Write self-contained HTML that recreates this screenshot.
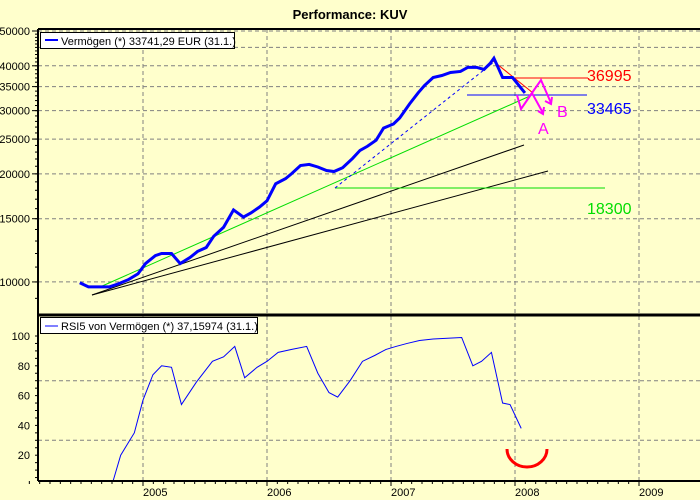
<!DOCTYPE html>
<html><head><meta charset="utf-8"><style>
body{margin:0;background:#ffffcc;}
svg{display:block;font-family:"Liberation Sans",sans-serif;}
</style></head><body>
<svg id="c" width="700" height="500">
<rect width="700" height="500" fill="#ffffcc"/>
<text x="350" y="19" text-anchor="middle" font-size="13" font-weight="bold">Performance: KUV</text>
<g id="g"></g>
</svg>
<script>
const vYears=[2004.49,2004.56,2004.64,2004.73,2004.80,2004.88,2004.96,2005.02,2005.10,2005.15,2005.23,2005.30,2005.38,2005.44,2005.51,2005.57,2005.65,2005.73,2005.81,2005.87,2005.94,2006.0,2006.07,2006.15,2006.20,2006.27,2006.34,2006.41,2006.48,2006.54,2006.61,2006.69,2006.75,2006.81,2006.88,2006.94,2007.02,2007.07,2007.15,2007.22,2007.27,2007.34,2007.41,2007.48,2007.56,2007.62,2007.69,2007.75,2007.80,2007.83,2007.90,2007.98,2008.08];
const vValues=[9945,9690,9690,9690,9875,10140,10540,11250,11840,12000,12000,11250,11700,12160,12470,13400,14200,15870,15160,15560,16170,16830,18770,19400,20050,21100,21250,20900,20430,20300,20800,22080,23250,23870,24820,26830,27540,28620,31340,33670,35240,37100,37580,38320,38570,39600,39600,39080,40630,42000,37100,37100,33600];
const rYears=[2004.76,2004.82,2004.93,2005.0,2005.08,2005.15,2005.23,2005.31,2005.43,2005.56,2005.65,2005.74,2005.82,2005.92,2006.0,2006.09,2006.2,2006.32,2006.41,2006.5,2006.57,2006.67,2006.77,2006.87,2006.96,2007.04,2007.13,2007.23,2007.34,2007.57,2007.66,2007.73,2007.81,2007.9,2007.96,2008.05];
const rValues=[3,20,35,57,74,80,79,54,69,83,86,93,72,79,83,89,91,93,75,62,59,70,83,87,91,93,95,97,98,99,80,83,89,55,54,38];
const topTicks=[50000,40000,35000,30000,25000,20000,15000,10000];
const topGrid=[50000,45000,40000,35000,30000,25000,20000,15000,10000];
const rsiTicks=[20,40,60,80,100];
const rsiGrid=[30,70];
const yearTicks=[2005,2006,2007,2008,2009];

const NS="http://www.w3.org/2000/svg";
const g=document.getElementById('g');
const X=t=>143+(t-2005)*124;
const Yt=v=>31+359*Math.log10(50000/v);
const Yr=v=>485-v*1.49;
function el(tag,a,p){const e=document.createElementNS(NS,tag);for(const k in a)e.setAttribute(k,a[k]);(p||g).appendChild(e);return e;}
const L=38,R=700,B=481;
topGrid.forEach(v=>{const e=el('line',{x1:L,x2:R,y1:Yt(v),y2:Yt(v),stroke:'#808080','stroke-dasharray':'4,3'});

});
rsiGrid.forEach(v=>{const e=el('line',{x1:L,x2:R,y1:Yr(v),y2:Yr(v),stroke:'#808080','stroke-dasharray':'4,3'});

});
yearTicks.forEach(y=>{const x=X(y);
const e=el('line',{x1:x,x2:x,y1:29,y2:B,stroke:'#808080','stroke-dasharray':'4,3'});


const t=el('text',{x:x,y:496,'text-anchor':'start','font-size':11});t.textContent=y;


for(let m=1;m<12;m++){const mx=X(y-1+m/12);el('line',{x1:mx,x2:mx,y1:B,y2:B+3,stroke:'#000'});}
el('line',{x1:x,x2:x,y1:B,y2:B+5,stroke:'#000'});
});
for(let v=9000;v<=50000;v+=1000){el('line',{x1:L-3,x2:L,y1:Yt(v),y2:Yt(v),stroke:'#000'});}
topTicks.forEach(v=>{el('line',{x1:L-6,x2:L,y1:Yt(v),y2:Yt(v),stroke:'#000'});
const t=el('text',{x:L-8,y:Yt(v)+4,'text-anchor':'end','font-size':11});t.textContent=v;

});
for(let v=5;v<=100;v+=5){el('line',{x1:L-3,x2:L,y1:Yr(v),y2:Yr(v),stroke:'#000'});}
rsiTicks.forEach(v=>{const t=el('text',{x:L-8,y:Yr(v)+4,'text-anchor':'end','font-size':11});t.textContent=v;

});
const ann=[[92,295,524,145,'#000'],[92,295,548,171,'#000'],[100,287,530,96,'#00dd00'],[335,188,605,188,'#00dd00'],[492,60,533,93,'#ff0000'],[513,78,588,78,'#ff0000'],[467,95,587,95,'#0000ff']];
ann.forEach(a=>{const e=el('line',{x1:a[0],y1:a[1],x2:a[2],y2:a[3],stroke:a[4]});

});
const dl=el('line',{x1:335,y1:188,x2:494,y2:62,stroke:'#0000ff','stroke-dasharray':'3,3'});


const vp=el('polyline',{points:vYears.map((t,i)=>X(t)+','+Yt(vValues[i])).join(' '),fill:'none',stroke:'#0000ff','stroke-width':3});


const rp=el('polyline',{points:rYears.map((t,i)=>X(t)+','+Math.min(Yr(rValues[i]),B)).join(' '),fill:'none',stroke:'#0000ff','stroke-width':1});


const mg=el('polyline',{points:'517,95 521,109 532,93 543,113',fill:'none',stroke:'#ff00ff','stroke-width':2});


const mg2=el('polyline',{points:'527,100 541,80 551,103',fill:'none',stroke:'#ff00ff','stroke-width':2});


el('polyline',{points:'538,111 543,114 544,107',fill:'none',stroke:'#ff00ff','stroke-width':2});
el('polyline',{points:'545,101 551,104 552,97',fill:'none',stroke:'#ff00ff','stroke-width':2});
const lbl=[[538,134,'A','#ff00ff','label-a'],[557,117,'B','#ff00ff','label-b'],[587,81,'36995','#ff0000','label-36995'],[587,114,'33465','#0000ff','label-33465'],[587,214,'18300','#00dd00','label-18300']];
lbl.forEach(a=>{const t=el('text',{x:a[0],y:a[1],fill:a[3],'font-size':16});t.textContent=a[2];

});
const arc=el('path',{d:'M507,449 A20,18 0 0 0 547,449',fill:'none',stroke:'#ff0000','stroke-width':3});


el('line',{x1:L,x2:L,y1:29,y2:B,stroke:'#000','stroke-width':2});
el('line',{x1:L,x2:R,y1:29,y2:29,stroke:'#000','stroke-width':2});
el('line',{x1:L,x2:R,y1:315,y2:315,stroke:'#000','stroke-width':3});
el('line',{x1:L,x2:R,y1:B,y2:B,stroke:'#000','stroke-width':2});
const lg1=el('g',{});


el('rect',{x:40.5,y:32.5,width:194,height:16,fill:'#fff',stroke:'#000'},lg1);
el('line',{x1:45,x2:58,y1:40,y2:40,stroke:'#0000ff','stroke-width':2},lg1);
el('text',{x:61,y:45,'font-size':11},lg1).textContent='Vermögen (*) 33741,29 EUR (31.1.)';
const lg2=el('g',{});


el('rect',{x:40.5,y:317.5,width:217,height:16,fill:'#fff',stroke:'#000'},lg2);
el('line',{x1:45,x2:58,y1:326,y2:326,stroke:'#0000ff','stroke-width':1},lg2);
el('text',{x:61,y:330,'font-size':11},lg2).textContent='RSI5 von Vermögen (*) 37,15974 (31.1.)';
</script>
</body></html>
